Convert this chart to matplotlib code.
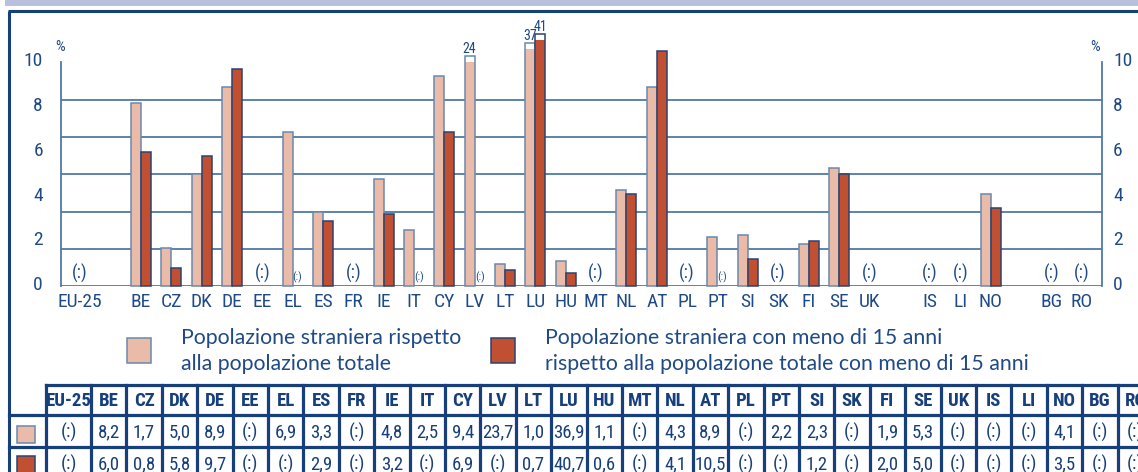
import numpy as np
import matplotlib.pyplot as plt
from matplotlib import font_manager as fm
from matplotlib.font_manager import FontProperties
from matplotlib.patches import Rectangle
from matplotlib.transforms import ScaledTranslation

# ---- data ----
countries = ['EU-25', 'BE', 'CZ', 'DK', 'DE', 'EE', 'EL', 'ES', 'FR', 'IE', 'IT',
             'CY', 'LV', 'LT', 'LU', 'HU', 'MT', 'NL', 'AT', 'PL', 'PT', 'SI',
             'SK', 'FI', 'SE', 'UK', 'IS', 'LI', 'NO', 'BG', 'RO']
groups = [1, 25, 3, 2]   # country groups on the x axis, one empty slot between
total = [None, 8.2, 1.7, 5.0, 8.9, None, 6.9, 3.3, None, 4.8, 2.5,
         9.4, 23.7, 1.0, 36.9, 1.1, None, 4.3, 8.9, None, 2.2, 2.3,
         None, 1.9, 5.3, None, None, None, 4.1, None, None]
under15 = [None, 6.0, 0.8, 5.8, 9.7, None, None, 2.9, None, 3.2, None,
           6.9, None, 0.7, 40.7, 0.6, None, 4.1, 10.5, None, None, 1.2,
           None, 2.0, 5.0, None, None, None, 3.5, None, None]
legend_total = ['Popolazione straniera rispetto', 'alla popolazione totale']
legend_under15 = ['Popolazione straniera con meno di 15 anni',
                  'rispetto alla popolazione totale con meno di 15 anni']

NAVY = '#173f7c'
TEXT = '#1f4a86'
GRID = '#4f7aa8'
PINK = '#e9bba8'
PINK_EDGE = '#6a89ad'
RED = '#c05031'
RED_EDGE = '#2b4370'
WIDE = ['Lato', 'DejaVu Sans']


# pick a condensed sans font if one is installed
def find_narrow(target):
    order = ['liberation', 'roboto', 'dejavu', 'noto', 'open', '']
    best = None
    for f in fm.fontManager.ttflist:
        name = f.name.lower()
        path = f.fname.lower().replace('-', '').replace('_', '').replace(' ', '')
        if f.style != 'normal' or 'mono' in name:
            continue
        if 'serif' in name and 'sans' not in name:
            continue
        if not ('condensed' in name or 'narrow' in name or 'condensed' in path
                or 'narrow' in path):
            continue
        if any(s in path for s in ['semicondensed', 'extracondensed',
                                   'ultracondensed', 'light', 'thin',
                                   'black', 'medium', 'extrabold', 'semibold']):
            continue
        w = f.weight if isinstance(f.weight, int) else fm.weight_dict.get(f.weight, 400)
        rank = next(i for i, o in enumerate(order) if o in name or o in path)
        key = (abs(w - target), rank)
        if best is None or key < best[0]:
            best = (key, f.fname)
    return best[1] if best else None


NARROW_REG = find_narrow(400)
NARROW_BOLD = find_narrow(700)


def nf(size, bold=False):
    path = NARROW_BOLD if bold else NARROW_REG
    if path:
        return FontProperties(fname=path, size=size)
    return FontProperties(family=['Roboto', 'DejaVu Sans'], size=size * 0.85,
                          weight='bold' if bold else 'normal')


W, H = 1138, 472
fig = plt.figure(figsize=(W / 100, H / 100), dpi=100)

# overlay in pixel coords for frame, legend and table
ov = fig.add_axes([0, 0, 1, 1], zorder=-1)
ov.set_xlim(0, W)
ov.set_ylim(H, 0)
ov.axis('off')

ov.add_patch(Rectangle((5, 0), W - 5, 6, color='#b8c0dc', lw=0))
ov.plot([8, W], [11, 11], color=NAVY, lw=2.2, solid_capstyle='butt')
ov.plot([9, 9], [11, H], color=NAVY, lw=2.2, solid_capstyle='butt')

# ---- chart ----
slots = []
pos = 0
for g in groups:
    slots.extend(range(pos, pos + g))
    pos += g + 1
slots = np.array(slots, float)

ax = fig.add_axes([61 / W, 1 - 286 / H, (1102 - 61) / W, (286 - 62.5) / H])
ax.set_xlim(-0.63, 33.67)
ax.set_ylim(0, 10)
ax.patch.set_alpha(0)

for g in np.linspace(0, 10, 7):
    ax.axhline(g, color=GRID, lw=1.3, zorder=0.5)
for s in ['top', 'bottom']:
    ax.spines[s].set_visible(False)
for s in ['left', 'right']:
    ax.spines[s].set_color(GRID)
    ax.spines[s].set_linewidth(1.3)

bw = 0.33


def shown(v):
    # values far above the scale are cut off with a short white stub
    if v > 12:
        fill = 10 + 1.15e-6 * (v - 10) ** 4
        return fill, fill + 0.25
    return v, v


for vals, off, face, edge in [(total, -bw / 2, PINK, PINK_EDGE),
                              (under15, bw / 2, RED, RED_EDGE)]:
    for x, v, other in zip(slots, vals, under15 if off < 0 else total):
        if v is None:
            if other is not None:
                ax.text(x + off, 0.4, '(:)', ha='center', va='center',
                        fontproperties=nf(8), color=TEXT)
            continue
        fill, top = shown(v)
        if top > fill:
            ax.bar(x + off, top, bw, color='white', lw=0, zorder=2, clip_on=False)
            ax.bar(x + off, fill, bw, color=face, lw=0, zorder=2, clip_on=False)
            ax.bar(x + off, top, bw, fill=False, edgecolor=edge, lw=1.1,
                   zorder=3, clip_on=False)
            ax.text(x + off, top + 0.02, f'{v:.0f}', ha='center', va='bottom',
                    fontproperties=nf(10), color=TEXT, zorder=4)
        else:
            ax.bar(x + off, v, bw, color=face, edgecolor=edge, lw=1.1,
                   zorder=2, clip_on=False)

for x, a, b in zip(slots, total, under15):
    if a is None and b is None:
        ax.text(x, 0.55, '(:)', ha='center', va='center',
                fontproperties=nf(13), color=TEXT)

ax.set_xticks(slots)
ax.set_xticklabels(countries)
ax.tick_params(axis='x', length=0, pad=5, labelcolor=TEXT)
ax.set_yticks(range(0, 11, 2))
ax.tick_params(axis='y', length=0, pad=13, labelcolor=TEXT)

ax2 = ax.twinx()
ax2.set_ylim(0, 10)
ax2.set_yticks(range(0, 11, 2))
ax2.tick_params(axis='y', length=0, pad=8, labelcolor=TEXT)
for s in ax2.spines.values():
    s.set_visible(False)

shift = ScaledTranslation(0, 3 / 100, fig.dpi_scale_trans)
for lab in ax.get_yticklabels() + ax2.get_yticklabels():
    lab.set_fontproperties(nf(14))
    lab.set_transform(lab.get_transform() + shift)
for lab in ax.get_xticklabels():
    lab.set_fontproperties(nf(14))

ov.text(60, 47, '%', ha='center', va='center', fontproperties=nf(11), color=TEXT)
ov.text(1095, 47, '%', ha='center', va='center', fontproperties=nf(11), color=TEXT)

# ---- legend ----
for x0, face, edge, lines in [(127, PINK, PINK_EDGE, legend_total),
                              (491, RED, RED_EDGE, legend_under15)]:
    ov.add_patch(Rectangle((x0, 338), 24, 25, fc=face, ec=edge, lw=1.1))
    for k, line in enumerate(lines):
        ov.text(x0 + 54, 338 + 26 * k, line, ha='left', va='center',
                fontsize=15.3, color=TEXT, family=WIDE)

# ---- table ----
edges = [46] + [91 + 35.4 * k for k in range(len(countries))]
row_y = [385, 415, 447, 479]
lw_t = 2.3
ov.plot([46, W], [row_y[0]] * 2, color=NAVY, lw=lw_t, solid_capstyle='projecting')
for y in row_y[1:]:
    ov.plot([9, W], [y] * 2, color=NAVY, lw=lw_t, solid_capstyle='projecting')
for e in edges:
    ov.plot([e, e], [row_y[0], H], color=NAVY, lw=lw_t, solid_capstyle='projecting')


def fmt(v):
    return '(:)' if v is None else f'{v:.1f}'.replace('.', ',')


for k, c in enumerate(countries):
    cx = (edges[k] + edges[k + 1]) / 2
    ov.text(cx, 401, c, ha='center', va='center', fontproperties=nf(13.5, True),
            color=NAVY)
    ov.text(cx, 432, fmt(total[k]), ha='center', va='center',
            fontproperties=nf(13.5), color=NAVY)
    ov.text(cx, 464, fmt(under15[k]), ha='center', va='center',
            fontproperties=nf(13.5), color=NAVY)

ov.add_patch(Rectangle((17, 426), 18, 17, fc=PINK, ec=PINK_EDGE, lw=1.1))
ov.add_patch(Rectangle((17, 456), 18, 17, fc=RED, ec=RED_EDGE, lw=1.1))

fig.savefig('out.png', dpi=100)
